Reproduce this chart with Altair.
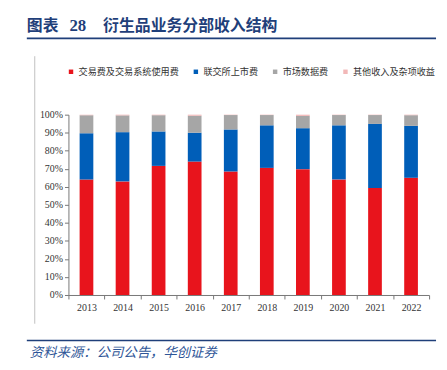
import altair as alt
import pandas as pd

years = ["2013", "2014", "2015", "2016", "2017", "2018", "2019", "2020", "2021", "2022"]
series = ["交易费及交易系统使用费", "联交所上市费", "市场数据费", "其他收入及杂项收益"]
trading = [64.0, 63.0, 71.6, 74.0, 68.5, 70.5, 69.8, 64.1, 59.3, 65.0]
listing = [25.7, 27.3, 19.1, 16.0, 23.3, 23.6, 22.7, 30.0, 35.6, 28.8]
market = [10.0, 9.3, 9.0, 9.4, 8.0, 5.7, 6.8, 5.7, 4.9, 5.9]
other = [0.3, 0.4, 0.3, 0.6, 0.2, 0.2, 0.7, 0.2, 0.2, 0.3]
colors = ["#E8141C", "#005EB8", "#A6A6A6", "#F2B8B8"]
y_ticks = [0, 10, 20, 30, 40, 50, 60, 70, 80, 90, 100]

rows = []
for si, (name, vals) in enumerate(zip(series, [trading, listing, market, other])):
    for yr, v in zip(years, vals):
        rows.append({"year": yr, "series": name, "value": v, "idx": si})
df = pd.DataFrame(rows)

W, H = 364, 182
NAVY = "#1F3F7A"

bars = alt.Chart(df).mark_bar(width=alt.RelativeBandSize(0.38)).encode(
    x=alt.X("year:N", sort=years,
            scale=alt.Scale(paddingInner=0, paddingOuter=0),
            axis=alt.Axis(title=None, labelAngle=0, labelFont="Liberation Serif",
                          labelFontSize=10, labelColor="#333", labelPadding=4,
                          tickBand="extent", tickSize=4, tickColor="#777",
                          domainColor="#777", grid=False)),
    y=alt.Y("value:Q", stack=True,
            scale=alt.Scale(domain=[0, 100], nice=False),
            axis=alt.Axis(title=None, values=y_ticks, labelExpr="datum.value + '%'",
                          labelFont="Liberation Serif", labelFontSize=10,
                          labelColor="#333", tickSize=4, tickColor="#777",
                          domainColor="#777", grid=False, labelPadding=2)),
    color=alt.Color("series:N", scale=alt.Scale(domain=series, range=colors),
                    legend=alt.Legend(title=None, orient="none", direction="horizontal",
                                      legendX=-2, legendY=-48, symbolType="square",
                                      symbolSize=20, symbolStrokeWidth=0,
                                      labelFont="Noto Sans CJK SC", labelFontSize=9.2,
                                      labelColor="#333", columnPadding=12,
                                      labelOffset=3, padding=0)),
    order=alt.Order("idx:Q", sort="ascending"),
)

def text_layer(txt, x, y, size, color, font, weight="normal", style="normal"):
    return alt.Chart(pd.DataFrame({"t": [txt]})).mark_text(
        align="left", baseline="middle", fontSize=size, color=color,
        font=font, fontWeight=weight, fontStyle=style
    ).encode(x=alt.value(x), y=alt.value(y), text="t:N")

def rule_layer(x1, x2, y1, y2, color, width):
    return alt.Chart(pd.DataFrame({"a": [0]})).mark_rule(
        color=color, strokeWidth=width
    ).encode(x=alt.value(x1), x2=alt.value(x2), y=alt.value(y1), y2=alt.value(y2))

title1 = text_layer("图表", -42, -89, 16, NAVY, "Noto Sans CJK SC", "bold")
title2 = text_layer("28", 1, -89, 17, NAVY, "Liberation Serif", "bold")
title3 = text_layer("衍生品业务分部收入结构", 35, -89, 16, NAVY, "Noto Sans CJK SC", "bold")
top_line = rule_layer(-42, 371, -77, -77, NAVY, 2)
bottom_line = rule_layer(-42, 371, 228, 228, NAVY, 1.5)
side_line = rule_layer(-34, -34, -59, 211, "#C0C0C0", 1)
source = text_layer("资料来源：公司公告，华创证券", -39, 241, 13.5, "#2E5597",
                    "Noto Sans CJK SC", "normal", "italic")

chart = alt.layer(
    side_line, top_line, bottom_line, title1, title2, title3, source, bars
).properties(
    width=W, height=H,
    autosize=alt.AutoSizeParams(type="none"),
    padding={"left": 61, "top": 106, "right": 10, "bottom": 70},
    background="white",
).configure_view(stroke=None)

chart.save("out.html", embed_options={"renderer": "svg", "actions": False})
